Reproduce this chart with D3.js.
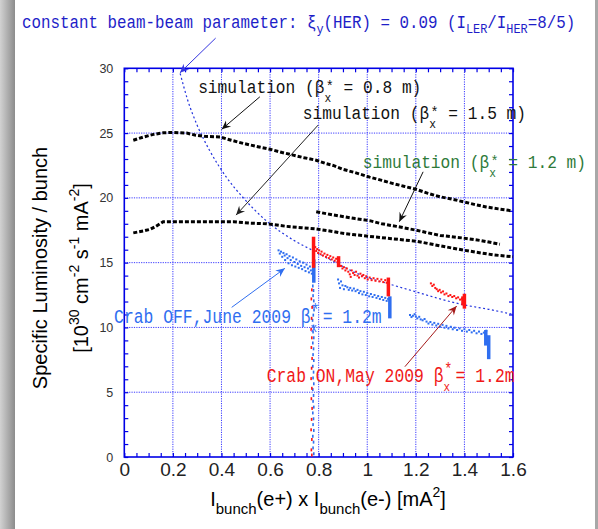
<!DOCTYPE html>
<html>
<head>
<meta charset="utf-8">
<style>
  body { margin: 0; background: #fff; }
</style>
</head>
<body>
<svg width="598" height="529"></svg>
<script src="https://d3js.org/d3.v7.min.js"></script>
<script>
  // ---- data ----
  var xTicks = [0, 0.2, 0.4, 0.6, 0.8, 1, 1.2, 1.4, 1.6];
  var xTickLabels = ["0", "0.2", "0.4", "0.6", "0.8", "1", "1.2", "1.4", "1.6"];
  var yTicks = [0, 5, 10, 15, 20, 25, 30];

  // constant beam-beam parameter curve (blue dotted)
  var beamBeam = [[0.23,29.6],[0.26,27.6],[0.30,25.6],[0.35,23.7],[0.42,21.6],[0.49,20.0],[0.58,18.3],
    [0.70,16.7],[0.78,15.9],[0.85,15.2],[0.98,14.0],[1.10,13.3],[1.20,12.75],[1.30,12.2],[1.41,11.7],
    [1.50,11.4],[1.60,11.0]];

  // simulations (black dashed)
  var sim08 = [[0.037,24.45],[0.08,24.7],[0.12,24.9],[0.16,25.02],[0.20,25.05],[0.257,25.0],[0.29,24.85],
    [0.33,24.75],[0.394,24.7],[0.44,24.45],[0.49,24.2],[0.55,23.95],[0.60,23.75],[0.65,23.5],[0.695,23.3],
    [0.74,23.1],[0.79,22.9],[0.83,22.65],[0.86,22.5],[0.90,22.2],[0.95,21.95],[1.01,21.6],[1.06,21.35],
    [1.107,21.1],[1.15,20.9],[1.203,20.65],[1.25,20.35],[1.30,20.08],[1.35,19.9],[1.395,19.7],[1.44,19.5],
    [1.49,19.3],[1.54,19.15],[1.594,19.0]];
  var sim15 = [[0.037,17.3],[0.08,17.45],[0.106,17.57],[0.13,17.8],[0.16,18.15],[0.25,18.15],[0.35,18.15],
    [0.45,18.15],[0.52,18.05],[0.586,18.0],[0.668,17.8],[0.73,17.7],[0.79,17.6],[0.86,17.4],[0.888,17.3],
    [0.95,17.15],[1.025,17.0],[1.10,16.85],[1.203,16.65],[1.30,16.3],[1.395,15.97],[1.45,15.8],[1.52,15.6],
    [1.60,15.45]];
  var sim12 = [[0.79,18.93],[0.84,18.75],[0.888,18.6],[0.95,18.4],[1.01,18.24],[1.06,18.0],[1.12,17.8],
    [1.203,17.5],[1.25,17.3],[1.30,17.1],[1.395,16.9],[1.47,16.7],[1.546,16.42]];

  // Crab OFF, June 2009 (blue)
  var offPts = [
    [0.635,15.95],[0.640,15.70],[0.645,15.85],[0.650,15.45],[0.655,15.75],[0.660,15.55],[0.662,15.20],
    [0.668,15.65],[0.672,15.35],[0.676,14.95],[0.680,15.50],[0.685,15.20],[0.690,14.80],[0.694,15.40],
    [0.700,15.05],[0.704,14.70],[0.708,15.25],[0.714,14.90],[0.718,14.60],[0.722,15.10],[0.728,14.75],
    [0.732,14.50],[0.736,15.00],[0.742,14.65],[0.746,14.35],[0.750,14.85],[0.756,14.55],[0.760,14.25],
    [0.764,14.70],[0.768,14.40],[0.772,14.15],[0.776,14.50],
    [0.880,13.70],[0.884,13.40],[0.888,13.05],[0.892,13.55],[0.898,13.25],[0.904,12.95],[0.910,13.20],
    [0.918,13.10],[0.924,12.90],[0.930,13.05],[0.938,12.85],[0.945,13.00],[0.952,12.80],[0.960,12.90],
    [0.966,12.65],[0.972,12.80],[0.980,12.55],[0.986,12.75],[0.994,12.50],[1.000,12.65],[1.008,12.40],
    [1.015,12.58],[1.022,12.35],[1.030,12.50],[1.038,12.28],[1.045,12.42],[1.052,12.20],[1.060,12.35],
    [1.066,12.12],[1.074,12.28],[1.080,12.05],[1.086,12.20],
    [1.176,10.96],[1.182,10.80],[1.188,10.90],[1.195,11.02],[1.200,10.85],[1.206,10.70],[1.214,10.82],
    [1.220,10.62],[1.228,10.55],[1.236,10.65],[1.244,10.45],[1.252,10.30],[1.260,10.42],[1.268,10.22],
    [1.276,10.35],[1.284,10.15],[1.292,10.28],[1.300,10.05],[1.310,10.20],[1.318,9.98],[1.326,10.12],
    [1.334,9.92],[1.344,10.05],[1.352,9.86],[1.360,9.98],[1.370,9.80],[1.380,9.92],[1.390,9.74],
    [1.400,9.86],[1.410,9.68],[1.420,9.80],[1.430,9.62],[1.440,9.74],[1.450,9.55],[1.460,9.68],
    [1.470,9.50],[1.480,9.60],[1.485,9.45],[1.490,9.75]];
  var offTrail = [[0.776,13.20],[0.779,12.85],[0.777,12.45],[0.780,12.05],[0.776,11.60],[0.781,11.35],
    [0.778,10.95],[0.775,10.55],[0.779,10.10],[0.777,9.65],[0.780,9.20],[0.776,8.80],[0.779,8.35],
    [0.777,7.90],[0.780,7.45],[0.776,7.00],[0.779,6.55],[0.777,6.10],[0.780,5.65],[0.776,5.20],
    [0.779,4.75],[0.777,4.30],[0.780,3.85],[0.776,3.40],[0.779,2.95],[0.777,2.50],[0.780,2.05],
    [0.776,1.60],[0.779,1.15],[0.777,0.70],[0.780,0.25]];
  var offBars = [[0.780,13.45,15.25],[1.093,10.70,12.40],[1.488,8.60,9.80],[1.500,7.55,9.40]];

  // Crab ON, May 2009 (red)
  var onPts = [
    [0.786,16.20],[0.790,15.90],[0.794,16.05],[0.798,15.75],[0.802,15.95],[0.808,15.65],[0.812,15.85],
    [0.818,15.55],[0.824,15.70],[0.830,15.45],[0.836,15.60],[0.842,15.35],[0.848,15.50],[0.854,15.25],
    [0.860,15.40],[0.866,15.15],[0.872,15.30],[0.878,15.05],
    [0.892,14.75],[0.898,14.55],[0.904,14.65],[0.910,14.40],[0.916,14.55],[0.922,14.30],[0.928,14.10],
    [0.932,13.90],[0.936,14.40],[0.942,14.20],[0.948,14.05],[0.954,14.30],[0.960,14.00],[0.966,13.85],
    [0.972,14.15],[0.978,13.95],[0.984,14.05],[0.990,13.80],[0.996,13.95],[1.002,13.70],[1.010,13.85],
    [1.018,13.65],[1.026,13.80],[1.034,13.60],[1.042,13.75],[1.050,13.55],[1.058,13.70],[1.066,13.50],
    [1.074,13.65],[1.080,13.45],
    [1.262,13.40],[1.268,13.20],[1.274,13.30],[1.280,13.05],[1.286,12.95],[1.292,12.80],[1.298,12.90],
    [1.304,12.70],[1.312,12.78],[1.318,12.55],[1.326,12.62],[1.334,12.42],[1.342,12.50],[1.350,12.35],
    [1.358,12.42],[1.366,12.25],[1.374,12.32],[1.382,12.15],[1.390,12.22]];
  var onTrail = [[0.772,12.90],[0.770,12.20],[0.773,11.55],[0.771,10.70],[0.769,9.85],[0.772,9.20],
    [0.770,8.45],[0.773,7.60],[0.771,6.85],[0.769,6.05],[0.772,5.30],[0.770,4.50],[0.773,3.75],
    [0.771,2.90],[0.769,2.10],[0.772,1.35],[0.770,0.55],[0.772,0.15]];
  var onBars = [[0.779,14.60,17.00],[0.882,14.65,15.50],[1.087,12.40,13.85],[1.400,11.45,12.60],[1.394,11.70,12.40]];

  // ---- layout ----
  var svg = d3.select("svg"),
      mono = "'Liberation Mono', 'DejaVu Sans Mono', monospace",
      sans = "'Liberation Sans', Arial, Helvetica, sans-serif",
      blue = "#2f6ef0", red = "#ff1414";

  var x = d3.scaleLinear().domain([0, 1.6]).range([124.3, 513]),
      y = d3.scaleLinear().domain([0, 30]).range([457, 68.3]);

  // page background: grey edge on the left and a thin one on the right
  var defs = svg.append("defs");
  var grad = defs.append("linearGradient").attr("id", "edge");
  grad.append("stop").attr("offset", "0%").attr("stop-color", "#d2d2d2");
  grad.append("stop").attr("offset", "100%").attr("stop-color", "#8c8c8c");
  svg.append("rect").attr("width", 598).attr("height", 529).attr("fill", "#fff");
  svg.append("rect").attr("width", 15).attr("height", 529).attr("fill", "url(#edge)");
  svg.append("rect").attr("x", 595).attr("width", 3).attr("height", 529).attr("fill", "#a8a8a8");

  // grid
  var grid = svg.append("g").attr("stroke", "#3a3aff").attr("stroke-width", 1).attr("stroke-dasharray", "1.2,1.2");
  grid.selectAll(".gx").data(xTicks.slice(1, -1)).enter().append("line")
      .attr("x1", function(d) { return x(d); }).attr("x2", function(d) { return x(d); })
      .attr("y1", y(0)).attr("y2", y(30));
  grid.selectAll(".gy").data(yTicks.slice(1, -1)).enter().append("line")
      .attr("y1", function(d) { return y(d); }).attr("y2", function(d) { return y(d); })
      .attr("x1", x(0)).attr("x2", x(1.6));

  // inward ticks on all four sides
  var xMinor = d3.range(0, 1.6001, 0.05), yMinor = d3.range(0, 30.001, 1);
  function tickAxis(axis, trans) {
    var a = svg.append("g").attr("transform", trans).call(axis);
    a.select(".domain").remove();
    a.selectAll("text").remove();
    a.selectAll("line").attr("stroke", "#0000e6").attr("stroke-width", 1.2);
  }
  tickAxis(d3.axisBottom(x).tickValues(xMinor).tickSize(-4), "translate(0," + y(0) + ")");
  tickAxis(d3.axisTop(x).tickValues(xMinor).tickSize(-4), "translate(0," + y(30) + ")");
  tickAxis(d3.axisLeft(y).tickValues(yMinor).tickSize(-4), "translate(" + x(0) + ",0)");
  tickAxis(d3.axisRight(y).tickValues(yMinor).tickSize(-4), "translate(" + x(1.6) + ",0)");

  // tick labels
  var xl = svg.append("g").attr("transform", "translate(0," + y(0) + ")")
      .call(d3.axisBottom(x).tickValues(xTicks).tickSize(0).tickPadding(6)
        .tickFormat(function(d, i) { return xTickLabels[i]; }));
  xl.select(".domain").remove();
  xl.selectAll("text").attr("font-family", sans).attr("font-size", 19).attr("fill", "#222");

  var yl = svg.append("g").attr("transform", "translate(" + x(0) + ",0)")
      .call(d3.axisLeft(y).tickValues(yTicks).tickSize(0).tickPadding(11));
  yl.select(".domain").remove();
  yl.selectAll("text").attr("font-family", sans).attr("font-size", 12.5).attr("fill", "#333");

  // frame
  svg.append("rect").attr("x", x(0)).attr("y", y(30))
      .attr("width", x(1.6) - x(0)).attr("height", y(0) - y(30))
      .attr("fill", "none").attr("stroke", "#0000e6").attr("stroke-width", 1.6);

  // curves
  var line = d3.line().x(function(d) { return x(d[0]); }).y(function(d) { return y(d[1]); });
  svg.append("path").datum(beamBeam).attr("d", line.curve(d3.curveMonotoneX))
      .attr("fill", "none").attr("stroke", "#2233dd").attr("stroke-width", 1.2).attr("stroke-dasharray", "2,2.5");
  line.curve(d3.curveLinear);
  [sim08, sim15, sim12].forEach(function(s) {
    svg.append("path").datum(s).attr("d", line)
        .attr("fill", "none").attr("stroke", "#000").attr("stroke-width", 3).attr("stroke-dasharray", "4,2");
  });

  // measured data
  function drawSet(pts, trail, bars, color) {
    svg.append("g").selectAll("rect").data(trail).enter().append("rect")
        .attr("x", function(d) { return x(d[0]) - 0.8; }).attr("y", function(d) { return y(d[1]) - 1.5; })
        .attr("width", 1.6).attr("height", 3).attr("fill", color);
    svg.append("g").selectAll("line").data(bars).enter().append("line")
        .attr("x1", function(d) { return x(d[0]); }).attr("x2", function(d) { return x(d[0]); })
        .attr("y1", function(d) { return y(d[1]); }).attr("y2", function(d) { return y(d[2]); })
        .attr("stroke", color).attr("stroke-width", 3.5);
    svg.append("g").selectAll("rect").data(pts).enter().append("rect")
        .attr("x", function(d) { return x(d[0]) - 1; }).attr("y", function(d) { return y(d[1]) - 1; })
        .attr("width", 2).attr("height", 2).attr("fill", color);
  }
  drawSet(offPts, offTrail, offBars, blue);
  drawSet(onPts, onTrail, onBars, red);

  // arrows
  var arrows = [
    {from: [0.376, 32.33], to: [0.229, 29.65], color: "#3535e0"},
    {from: [0.558, 27.8], to: [0.401, 25.29], color: "#111"},
    {from: [0.798, 25.62], to: [0.46, 18.67], color: "#222"},
    {from: [1.23, 22.01], to: [1.132, 18.16], color: "#111"},
    {from: [0.442, 11.55], to: [0.661, 14.56], color: blue},
    {from: [1.155, 6.97], to: [1.368, 11.65], color: "#a51a1a"}
  ];
  arrows.forEach(function(a) {
    var x1 = x(a.from[0]), y1 = y(a.from[1]), x2 = x(a.to[0]), y2 = y(a.to[1]);
    var ang = Math.atan2(y2 - y1, x2 - x1) * 180 / Math.PI;
    svg.append("line").attr("x1", x1).attr("y1", y1).attr("x2", x2).attr("y2", y2)
        .attr("stroke", a.color).attr("stroke-width", 1);
    svg.append("path").attr("d", "M0,0L-9,-4L-6,0L-9,4Z")
        .attr("transform", "translate(" + x2 + "," + y2 + ") rotate(" + ang + ")")
        .attr("fill", a.color);
  });

  // rich text helper: parts are [text, dx, dy, size]
  function rich(px, py, sx, size, color, parts, family, anchor) {
    var g = svg.append("g").attr("transform", "translate(" + px + "," + py + ") scale(" + sx + ",1)");
    var t = g.append("text").attr("font-family", family || mono).attr("font-size", size)
        .attr("fill", color).attr("text-anchor", anchor || "start").attr("xml:space", "preserve");
    parts.forEach(function(p) {
      t.append("tspan").text(p[0]).attr("dx", p[1] || 0).attr("dy", p[2] || 0)
          .attr("font-size", p[3] || size);
    });
    return t;
  }

  // title
  rich(22, 27.5, 0.88, 18, "#1e1ec8", [
    ["constant beam-beam parameter: ξ"], ["y", 0, 5, 13.5], ["(HER) = 0.09 (I", 0, -5],
    ["LER", 0, 5, 13.5], ["/I", 0, -5], ["HER", 0, 5, 13.5], ["=8/5)", 0, -5]
  ]);

  function simLabel(v, color, pos) {
    rich(x(pos[0]), y(pos[1]), 0.9, 18, color, [
      ["simulation (β"], ["x", 0, 9, 12.5], ["*", -6, -11, 15], [" = " + v + " m)", 0, 2]
    ]);
  }
  simLabel("0.8", "#111", [0.304, 28.12]);
  simLabel("1.5", "#111", [0.735, 26.06]);
  simLabel("1.2", "#2e7a3a", [0.982, 22.28]);

  function crabLabel(s, color, pos) {
    rich(x(pos[0]), y(pos[1]), 0.84, 19.5, color, [
      [s + " β"], ["x", 0, 9, 13], ["*", -7, -17, 16], ["= 1.2m", 4, 8]
    ]);
  }
  crabLabel("Crab OFF,June 2009", blue, [-0.042, 10.32]);
  crabLabel("Crab ON,May 2009", "#f01818", [0.586, 5.81]);

  // axis titles
  rich(328, 506, 1, 20, "#000", [
    ["I"], ["bunch", 0, 8, 15], ["(e+) x I", 0, -8], ["bunch", 0, 8, 15], ["(e-) [mA", 0, -8],
    ["2", 0, -9, 14], ["]", 0, 9]
  ], sans, "middle");

  svg.append("text").attr("transform", "translate(47,268) rotate(-90)")
      .attr("text-anchor", "middle").attr("font-family", sans).attr("font-size", 20)
      .text("Specific Luminosity / bunch");
  var yt = svg.append("text").attr("transform", "translate(88,268) rotate(-90)")
      .attr("text-anchor", "middle").attr("font-family", sans).attr("font-size", 20)
      .attr("xml:space", "preserve");
  [["[10", 0], ["30", -9, 14], [" cm", 9], ["-2", -9, 14], [" s", 9], ["-1", -9, 14],
   [" mA", 9], ["-2", -9, 14], ["]", 9]].forEach(function(p) {
    yt.append("tspan").text(p[0]).attr("dy", p[1]).attr("font-size", p[2] || 20);
  });
</script>
</body>
</html>
